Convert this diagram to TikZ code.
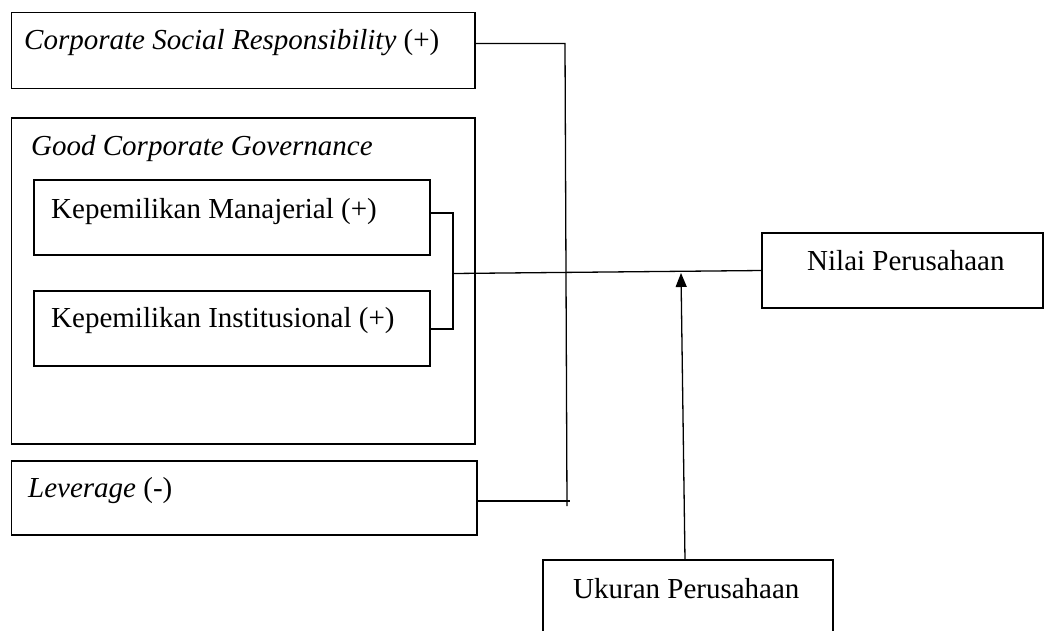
\documentclass[tikz,border=0pt]{standalone}
\usepackage{fontspec}
\setmainfont{Liberation Serif}
\usetikzlibrary{arrows.meta}
\begin{document}
\begin{tikzpicture}[x=1pt,y=-1pt,
  box/.style={draw, line width=1.4pt, inner sep=0pt, outer sep=0pt, anchor=north west},
  lbl/.style={anchor=base west, inner sep=0pt, font=\fontsize{29}{34}\selectfont},
  conn/.style={line width=1.3pt},
  every node/.append style={}]
\useasboundingbox[fill=white] (0,0) rectangle (1045,630);
% boxes
\node[box, minimum width=463.5pt, minimum height=76pt] (csr) at (11.5,12.5) {};
\node[box, minimum width=463.5pt, minimum height=326pt] (gcg) at (11.5,118) {};
\node[box, minimum width=396pt, minimum height=75pt] (km) at (34,180) {};
\node[box, minimum width=396pt, minimum height=75pt] (ki) at (34,291) {};
\node[box, minimum width=465.5pt, minimum height=74pt] (lev) at (11.5,461) {};
\node[box, minimum width=281pt, minimum height=75pt] (nilai) at (762,233) {};
\node[box, minimum width=290pt, minimum height=90pt] (uk) at (543,560) {};
% texts
\node[lbl] (tcsr) at (24,49) {\textit{Corporate Social Responsibility} (+)};
\node[lbl] (tgcg) at (31,155) {\textit{Good Corporate Governance}};
\node[lbl] (tkm) at (51,218) {Kepemilikan Manajerial (+)};
\node[lbl] (tki) at (51,327) {Kepemilikan Institusional (+)};
\node[lbl] (tlev) at (28,497) {\textit{Leverage} (-)};
\node[lbl] (tnilai) at (807,270) {Nilai Perusahaan};
\node[lbl] (tuk) at (573,598) {Ukuran Perusahaan};
% connector coordinates
\coordinate (bt) at (453,213);
\coordinate (bb) at (453,329);
\coordinate (bm) at (453,273.5);
\coordinate (c1) at (565,43.5);
\coordinate (c2) at (567,506);
\coordinate (l1) at (570,501);
\coordinate (ab) at (685,560);
\coordinate (tip) at (681,273);
% connectors
\draw[conn] (km.east |- bt) -- (bt) -- (bb) -- (ki.east |- bb);
\draw[conn] (bm) -- (nilai.west);
\draw[conn] (csr.east |- c1) -- (c1) -- (c2);
\draw[conn] (lev.east |- l1) -- (l1);
\draw[conn, -{Triangle[width=11pt,length=14pt]}] (ab) -- (tip);
\end{tikzpicture}
\end{document}
